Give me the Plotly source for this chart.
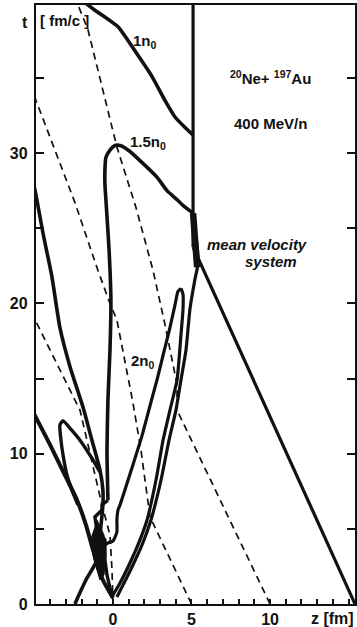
import plotly.graph_objects as go

# ---------------- data (z in fm, t in fm/c) ----------------
# 1 n0 density contour (upper right)
N1_Z = [-1.9, -1.15, 0.32, 1.59, 2.48, 3.31, 3.95, 4.59, 5.10]
N1_T = [40.1, 39.5, 38.4, 36.5, 35.1, 33.5, 32.4, 31.7, 31.2]

# vertical boundary and mean-velocity line
VERT_Z = [5.10, 5.10]
VERT_T = [40.5, 23.75]
MEANV_Z = [5.10, 15.41]
MEANV_T = [23.75, 0.0]
WEDGE_Z = [5.10, 5.20, 5.36]
WEDGE_T = [26.0, 24.4, 22.4]

# 1.5 n0 contour (from the vertical line, over the hook, down the left side)
N15_Z = [5.10, 4.59, 4.08, 3.44, 2.80, 1.72, 0.96, 0.45, 0.13, -0.19, -0.45, -0.51,
         -0.51, -0.45, -0.25, -0.13, -0.19, -0.32, -0.38, -0.32]
N15_T = [26.0, 26.4, 26.9, 27.5, 28.4, 29.5, 30.2, 30.5, 30.5, 30.2, 29.7, 28.9,
         27.9, 26.9, 23.6, 20.2, 16.9, 13.6, 10.2, 6.9]
# its wiggly lower end and the inner left arm of the V
WIG_Z = [-0.32, -0.70, -0.70, -1.15, -1.02, -0.51, -0.51, -0.51, -0.38, -0.19, 0.0]
WIG_T = [6.9, 6.59, 6.25, 5.79, 4.92, 4.26, 3.93, 2.93, 1.93, 1.06, 0.53]

# 1.5 n0 outer right branch (from the V up to the mean-velocity junction)
R2_Z = [0.25, 0.64, 1.21, 1.85, 2.42, 3.06, 3.57, 4.01, 4.33, 4.65, 4.90, 5.22, 5.41, 5.35, 5.16, 5.10]
R2_T = [0.47, 1.26, 2.46, 3.93, 5.59, 8.25, 10.9, 12.9, 14.9, 16.9, 19.6, 21.6, 22.6, 23.9, 25.2, 26.0]

# 2 n0 contour: tongue, right branch runs down to the V vertex
N2R_Z = [4.33, 4.46, 4.46, 4.33, 4.08, 3.63, 3.19, 2.74, 2.17, 1.59, 0.96, 0.38, 0.0]
N2R_T = [21.0, 20.6, 19.6, 17.9, 14.9, 12.9, 10.9, 8.25, 5.59, 3.93, 2.46, 1.26, 0.6]
N2L_Z = [4.33, 4.14, 3.95, 3.63, 3.25, 2.80, 2.36, 1.85, 1.27, 0.76, 0.45, 0.32, 0.25, 0.25, 0.0, -0.32, -0.51]
N2L_T = [21.0, 20.8, 19.9, 18.4, 16.8, 14.9, 13.2, 11.2, 9.25, 7.58, 6.59, 6.25, 5.59, 4.79, 4.19, 4.06, 3.93]

# outer left contour (from left axis at t~27 down to t=0)
S4_Z = [-5.1, -4.90, -4.46, -3.89, -3.38, -2.74, -1.91, -1.34, -0.83, -0.64, -0.64,
        -0.76, -0.89, -1.08, -1.72, -2.17, -2.42]
S4_T = [28.2, 27.2, 24.7, 21.8, 18.4, 15.8, 13.1, 10.9, 8.92, 7.58, 6.59,
        5.26, 3.93, 2.79, 1.60, 0.60, 0.0]

# contour from left axis at t~12 down to the V vertex
L12_Z = [-5.1, -4.90, -4.01, -3.06, -2.29, -1.72, -1.27, -0.64, 0.0]
L12_T = [12.8, 12.4, 10.6, 8.58, 6.92, 5.26, 3.59, 1.60, 0.40]

# dark overlap region where the lower contours cross
BLOB_Z = [-1.02, -0.57, -0.45, -0.57, -0.83, -1.21, -1.46]
BLOB_T = [5.59, 4.59, 3.26, 1.93, 1.60, 2.93, 4.26]

# narrow hook near z=-3, t=12
HOOK_Z = [-0.83, -1.27, -2.10, -2.74, -3.18, -3.38, -3.31, -3.18, -2.93, -2.61, -2.23]
HOOK_T = [8.78, 9.58, 10.9, 11.7, 12.2, 11.9, 10.9, 9.91, 8.58, 7.58, 6.59]

# dashed trajectories
TR1_Z = [10.0, 4.08, 4.08, 3.31, 2.55, 1.46, 0.25, -1.59, -2.36]
TR1_T = [0.0, 12.9, 14.6, 18.6, 22.2, 26.4, 30.4, 38.2, 40.2]
TR2_Z = [5.0, 2.36, 1.78, 1.27, 0.25, -0.19, -0.96, -2.42, -4.90, -5.1]
TR2_T = [0.0, 5.79, 10.25, 13.4, 18.9, 20.0, 22.2, 26.7, 33.5, 34.1]
TR3_Z = [0.0, -0.06, -0.19, -0.70, -2.10, -4.90, -5.1]
TR3_T = [0.0, 2.26, 4.59, 6.59, 12.9, 18.8, 19.2]

X_TICKS = list(range(-4, 16))
X_LABELS = {0: "0", 5: "5", 10: "10"}
Y_TICKS = [0, 5, 10, 15, 20, 25, 30, 35]
Y_LABELS = {0: "0", 10: "10", 20: "20", 30: "30"}

LABELS = [
    ("1n<sub>0</sub>", 2.04, 37.4),
    ("1.5n<sub>0</sub>", 2.23, 30.7),
    ("2n<sub>0</sub>", 1.91, 16.1),
    ("<sup>20</sup>Ne+ <sup>197</sup>Au", 10.0, 35.0),
    ("400 MeV/n", 10.06, 32.0),
    ("<i>mean velocity</i>", 9.17, 23.95),
    ("<i>system</i>", 10.06, 22.8),
    ("[ fm/c ]", -3.1, 38.8),
]

INK = "#111111"
FONT = "Liberation Sans"

fig = go.Figure()

def curve(z, t, w=3.6, smooth=0.5):
    line = dict(color=INK, width=w)
    if smooth:
        line.update(shape="spline", smoothing=smooth)
    fig.add_trace(go.Scatter(x=z, y=t, mode="lines", showlegend=False, hoverinfo="skip", line=line))

def dashed(z, t):
    fig.add_trace(go.Scatter(x=z, y=t, mode="lines", showlegend=False, hoverinfo="skip",
                             line=dict(color=INK, width=1.7, dash="7px,5px")))

for z, t in [(TR1_Z, TR1_T), (TR2_Z, TR2_T), (TR3_Z, TR3_T)]:
    dashed(z, t)

fig.add_trace(go.Scatter(x=BLOB_Z, y=BLOB_T, mode="lines", fill="toself", fillcolor=INK,
                         showlegend=False, hoverinfo="skip", line=dict(color=INK, width=1)))

curve(N1_Z, N1_T, 3.6)
curve(VERT_Z, VERT_T, 3.2, None)
curve(MEANV_Z, MEANV_T, 3.2, None)
curve(WEDGE_Z, WEDGE_T, 6.5, None)
curve(N15_Z, N15_T, 3.6)
curve(WIG_Z, WIG_T, 3.4, None)
curve(R2_Z, R2_T, 3.2)
curve(N2R_Z, N2R_T, 3.2)
curve(N2L_Z, N2L_T, 3.2)
curve(S4_Z, S4_T, 3.6)
curve(L12_Z, L12_T, 4.0)
curve(HOOK_Z, HOOK_T, 3.4)

for text, z, t in LABELS:
    fig.add_annotation(x=z, y=t, xref="x", yref="y", text="<b>" + text + "</b>", showarrow=False,
                       font=dict(family=FONT, size=15, color=INK))

fig.add_annotation(x=-0.05, y=38.7, xref="paper", yref="y", text="<b>t</b>", showarrow=False,
                   font=dict(family=FONT, size=16, color=INK))
fig.add_annotation(x=13.95, y=-0.025, xref="x", yref="paper", text="<b>z [fm]</b>", showarrow=False,
                   yanchor="middle", font=dict(family=FONT, size=16, color=INK))

fig.update_xaxes(range=[-4.9, 15.41], showgrid=False, zeroline=False, automargin=False,
                 showline=True, linecolor=INK, linewidth=2.4, mirror=True,
                 ticks="inside", ticklen=5, tickwidth=1.6, tickcolor=INK,
                 tickvals=X_TICKS, ticktext=["<b>" + X_LABELS[v] + "</b>" if v in X_LABELS else "" for v in X_TICKS],
                 tickfont=dict(family=FONT, size=16, color=INK), ticklabelstandoff=0)
fig.update_yaxes(range=[0, 39.85], showgrid=False, zeroline=False, automargin=False,
                 showline=True, linecolor=INK, linewidth=2.4, mirror="allticks",
                 ticks="inside", ticklen=8, tickwidth=1.6, tickcolor=INK,
                 tickvals=Y_TICKS, ticktext=["<b>" + Y_LABELS[v] + "</b>" if v in Y_LABELS else "" for v in Y_TICKS],
                 tickfont=dict(family=FONT, size=16, color=INK), ticklabelstandoff=3)

fig.update_layout(width=357, height=627, margin=dict(l=36, r=2, t=5, b=23, autoexpand=False),
                  plot_bgcolor="white", paper_bgcolor="white")

fig.write_html("out.html")
